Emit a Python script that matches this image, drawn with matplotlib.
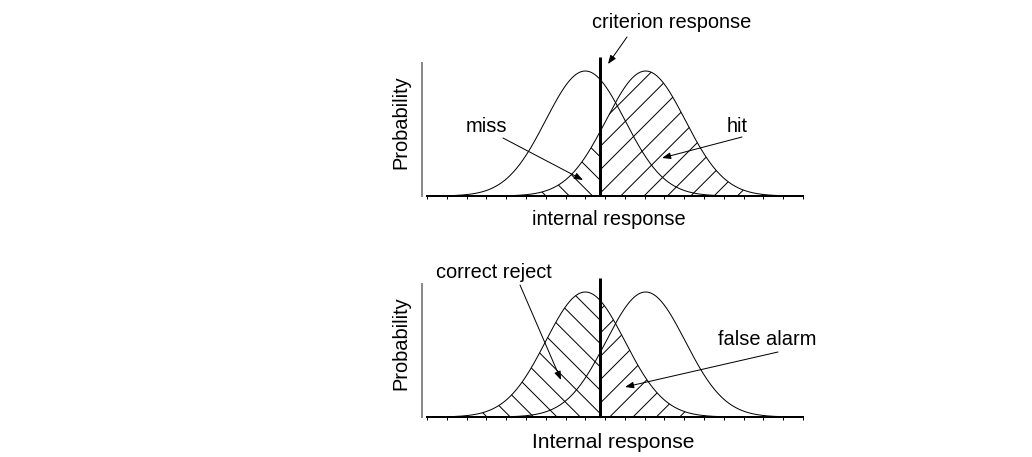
import numpy as np
import matplotlib
matplotlib.use("Agg")
import matplotlib.pyplot as plt

# ---- data ----
noise_mean = 8.0
signal_mean = 11.05
sigma = 2.0
criterion = 8.75
x_ticks = list(range(0, 20))
x_min, x_max = 0, 19

panel_labels = [
    {"xlabel": "internal response", "left": "miss", "right": "hit"},
    {"xlabel": "Internal response", "left": "correct reject", "right": "false alarm"},
]

# ---- layout helpers (pixels) ----
W, H = 1032, 457
DPI = 140
PT = 72.0 / DPI  # points per pixel

plt.rcParams['font.family'] = ['Liberation Sans', 'DejaVu Sans']
plt.rcParams['hatch.linewidth'] = 1.0 * PT

fig = plt.figure(figsize=(W / DPI, H / DPI), dpi=DPI)

AX_L, AX_R = 427, 803
peak_px = 125.0
pdf_peak = 1.0 / (sigma * np.sqrt(2 * np.pi))
ymax = 139.0 / peak_px * pdf_peak
spine_top = 133.0 / peak_px * pdf_peak


def pdf(x, m):
    return np.exp(-0.5 * ((x - m) / sigma) ** 2) / (sigma * np.sqrt(2 * np.pi))


def make_ax(base_px):
    top_px = base_px - 139
    ax = fig.add_axes([AX_L / W, 1 - base_px / H, (AX_R - AX_L) / W, (base_px - top_px) / H])
    ax.set_xlim(x_min, x_max)
    ax.set_ylim(0, ymax)
    ax.patch.set_alpha(0)
    for s in ['top', 'right']:
        ax.spines[s].set_visible(False)
    ax.spines['bottom'].set_linewidth(2 * PT)
    ax.spines['left'].set_linewidth(2 * PT)
    ax.spines['left'].set_color('#8a8a8a')
    ax.spines['left'].set_position(('outward', 5 * PT))
    ax.spines['left'].set_bounds(0, spine_top)
    ax.set_xticks(x_ticks)
    ax.set_xticklabels([])
    ax.set_yticks([])
    ax.tick_params(axis='x', direction='out', length=3 * PT, width=1 * PT, color='black')
    return ax


def to_data(base_px, px, py):
    x = (px - AX_L) / (AX_R - AX_L) * (x_max - x_min) + x_min
    y = (base_px - py) / 139.0 * ymax
    return x, y


arrow_kw = dict(arrowstyle='-|>,head_length=0.45,head_width=0.17', lw=1 * PT, color='black',
                shrinkA=0, shrinkB=0, mutation_scale=16 * PT)
FS = 20 * PT

xs = np.linspace(x_min, x_max, 800)
xl = np.linspace(x_min, criterion, 500)
xr = np.linspace(criterion, x_max, 500)

bases = [196, 417]
for i, base in enumerate(bases):
    ax = make_ax(base)
    if i == 0:
        ax.fill_between(xr, 0, pdf(xr, signal_mean), facecolor='none', edgecolor='black',
                        hatch='//', linewidth=0)
        ax.fill_between(xl, 0, pdf(xl, signal_mean), facecolor='none', edgecolor='black',
                        hatch='\\\\', linewidth=0)
    else:
        ax.fill_between(xl, 0, pdf(xl, noise_mean), facecolor='none', edgecolor='black',
                        hatch='\\\\', linewidth=0)
        ax.fill_between(xr, 0, pdf(xr, noise_mean), facecolor='none', edgecolor='black',
                        hatch='//', linewidth=0)
    ax.plot(xs, pdf(xs, noise_mean), color='black', lw=1 * PT)
    ax.plot(xs, pdf(xs, signal_mean), color='black', lw=1 * PT)
    ax.plot([criterion, criterion], [0, ymax], color='black', lw=3 * PT,
            clip_on=False, solid_capstyle='butt')

    labs = panel_labels[i]
    if i == 0:
        ax.text(*to_data(base, 609, 225), labs["xlabel"], ha='center', va='baseline', fontsize=FS)
        ax.text(*to_data(base, 401, 122.5), "Probability", ha='center', va='center',
                rotation=90, fontsize=FS)
        ax.text(*to_data(base, 486.5, 132), labs["left"], ha='center', va='baseline', fontsize=FS)
        ax.text(*to_data(base, 737, 132), labs["right"], ha='center', va='baseline', fontsize=FS)
        ax.annotate('', xy=to_data(base, 583, 180), xytext=to_data(base, 503, 138),
                    arrowprops=arrow_kw, annotation_clip=False)
        ax.annotate('', xy=to_data(base, 662, 158), xytext=to_data(base, 742, 137),
                    arrowprops=arrow_kw, annotation_clip=False)
        ax.text(*to_data(base, 672, 28), "criterion response", ha='center', va='baseline',
                fontsize=FS, clip_on=False)
        ax.annotate('', xy=to_data(base, 608, 64), xytext=to_data(base, 627, 37),
                    arrowprops=arrow_kw, annotation_clip=False)
    else:
        ax.text(*to_data(base, 613, 448), labs["xlabel"], ha='center', va='baseline',
                fontsize=21 * PT)
        ax.text(*to_data(base, 401, 343.5), "Probability", ha='center', va='center',
                rotation=90, fontsize=FS)
        ax.text(*to_data(base, 494, 278), labs["left"], ha='center', va='baseline', fontsize=FS)
        ax.text(*to_data(base, 767, 345), labs["right"], ha='center', va='baseline', fontsize=FS)
        ax.annotate('', xy=to_data(base, 561, 380), xytext=to_data(base, 520, 285),
                    arrowprops=arrow_kw, annotation_clip=False)
        ax.annotate('', xy=to_data(base, 625, 387), xytext=to_data(base, 778, 352),
                    arrowprops=arrow_kw, annotation_clip=False)

fig.savefig("out.png", dpi=DPI, facecolor='white')
